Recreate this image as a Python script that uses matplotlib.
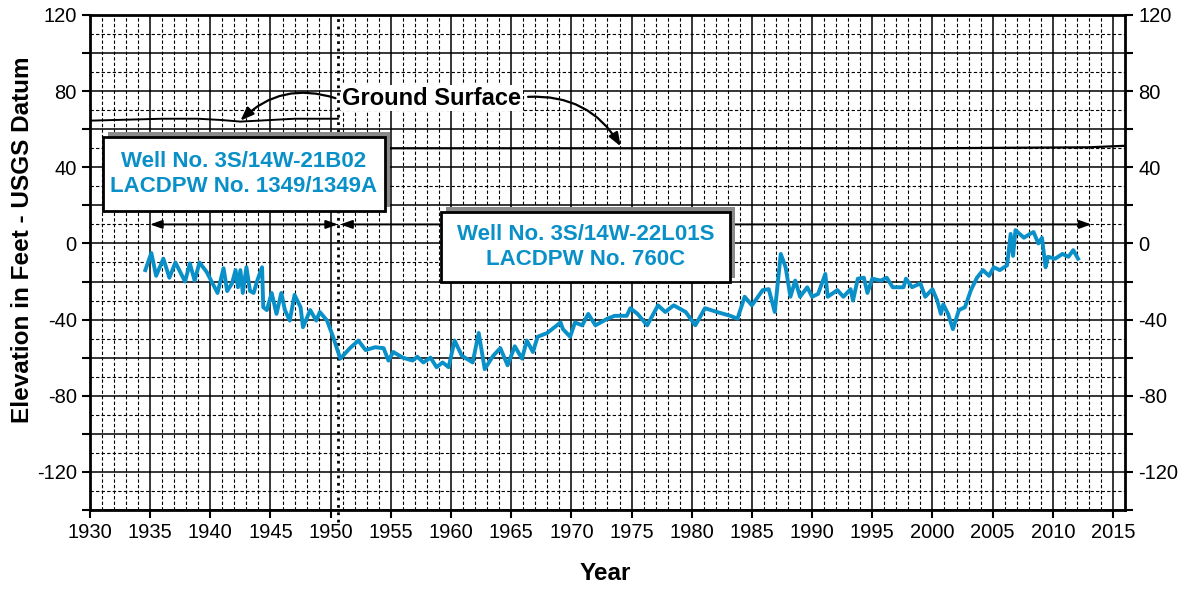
import matplotlib.pyplot as plt
from matplotlib.patches import Rectangle
from matplotlib.ticker import MultipleLocator, FuncFormatter

plt.rcParams['font.family'] = ['Liberation Sans', 'DejaVu Sans']

# Well hydrograph (year, elevation in feet)
well_years = [1934.6, 1935.1, 1935.5, 1936.1, 1936.6, 1937.1, 1937.9, 1938.3, 1938.7, 1939.1,
              1939.7, 1940.6, 1941.1, 1941.4, 1941.8, 1942.1, 1942.3, 1942.5, 1942.7, 1943.0,
              1943.3, 1943.6, 1943.9, 1944.3, 1944.4, 1944.7, 1945.1, 1945.5, 1945.9, 1946.2,
              1946.6, 1947.0, 1947.5, 1947.7, 1948.3, 1948.8, 1949.1, 1949.7, 1950.2, 1950.8,
              1951.6, 1952.3, 1952.9, 1953.7, 1954.4, 1954.8, 1955.2, 1956.0, 1956.8, 1957.2,
              1957.7, 1958.3, 1958.8, 1959.3, 1959.8, 1960.3, 1960.9, 1961.8, 1962.3, 1962.8,
              1963.5, 1964.1, 1964.7, 1965.3, 1965.9, 1966.3, 1966.8, 1967.2, 1968.0, 1969.1,
              1969.3, 1969.9, 1970.3, 1970.9, 1971.4, 1972.0, 1973.0, 1973.6, 1974.6, 1974.9,
              1975.5, 1976.3, 1977.2, 1977.8, 1978.5, 1979.5, 1980.3, 1981.1, 1982.1, 1983.2,
              1983.8, 1984.4, 1985.0, 1985.9, 1986.4, 1986.9, 1987.4, 1987.8, 1988.2, 1988.6,
              1989.0, 1989.6, 1990.0, 1990.5, 1991.1, 1991.3, 1992.1, 1992.6, 1993.2, 1993.4,
              1993.8, 1994.3, 1994.6, 1995.0, 1995.7, 1996.2, 1996.7, 1997.6, 1997.8, 1998.3,
              1999.0, 1999.4, 2000.0, 2000.4, 2000.7, 2000.9, 2001.3, 2001.7, 2002.2, 2002.7,
              2003.2, 2003.7, 2004.2, 2004.7, 2005.1, 2005.6, 2006.2, 2006.5, 2006.7, 2006.9,
              2007.6, 2008.1, 2008.4, 2008.8, 2009.1, 2009.4, 2009.6, 2010.2, 2010.8, 2011.3,
              2011.7, 2012.1]
well_elev = [-14, -5, -17, -8, -18, -10, -20, -10.5, -19.5, -10,
             -15, -26, -13, -25, -21, -14, -23, -14, -26, -12.5,
             -25, -26, -19.5, -12.5, -33.5, -35, -26, -37, -26, -35,
             -40.5, -27, -33.5, -44, -35, -40.5, -36, -40.5, -49, -60.5,
             -55, -51, -56, -54.5, -55, -61.5, -57, -60, -61.5, -59.5,
             -62.5, -60, -65, -62.5, -65, -51, -59, -62.5, -47, -66,
             -59, -55, -64, -54, -60.5, -51, -57, -49, -47, -41.5,
             -45, -49, -41.5, -43, -37, -43, -39.5, -38, -38, -34,
             -37, -43, -32.5, -36, -32.5, -36, -43, -34, -36, -38,
             -39.5, -28, -32.5, -24.5, -24, -36, -5.5, -12.5, -28, -19.5,
             -28, -23, -28, -26.5, -16, -28, -24.5, -28, -24, -30,
             -18.5, -18, -26, -18.5, -19.5, -18, -23, -23, -18.5, -23,
             -21, -28, -24, -30, -37, -32, -37, -45, -35, -33.5,
             -24.5, -18, -14, -17, -12.5, -14, -11.5, 5, -6.5, 7,
             3, 5, 6, 0, 3, -12.5, -7, -8, -5.5, -7,
             -3.5, -8]

# Ground surface at the two well sites
gs_old_years = [1930, 1933, 1936, 1939, 1941, 1942.5, 1944, 1947, 1950.6]
gs_old_elev = [64.5, 65, 65.5, 65.5, 64.8, 64, 64.5, 65.5, 65.5]
gs_new_years = [1950.6, 1975, 2000, 2013, 2016]
gs_new_elev = [50, 50, 50, 50.5, 51.3]

well_switch = 1950.6
box_labels = ['Well No. 3S/14W-21B02\nLACDPW No. 1349/1349A',
              'Well No. 3S/14W-22L01S\nLACDPW No. 760C']

blue = '#0a90c8'

fig = plt.figure(figsize=(11.93, 5.92), dpi=100)
ax = fig.add_axes([0.0754, 0.1385, 0.8676, 0.8362])

ax.set_xlim(1930, 2016)
ax.set_ylim(-140, 120)

# Grid: solid every 5 yr / 20 ft, dashed every 1 yr / 10 ft
ax.xaxis.set_major_locator(MultipleLocator(5))
ax.xaxis.set_minor_locator(MultipleLocator(1))
ax.yaxis.set_major_locator(MultipleLocator(20))
ax.yaxis.set_minor_locator(MultipleLocator(10))
ax.yaxis.set_major_formatter(FuncFormatter(lambda v, p: '%d' % v if v % 40 == 0 else ''))
ax.grid(which='major', color='black', lw=1.1, ls='-')
ax.grid(which='minor', color='black', lw=0.8, ls=(0, (3, 2)))
ax.set_axisbelow(True)

ax.tick_params(which='major', direction='out', length=6, width=1.5, labelsize=14.5,
               left=True, right=True, labelright=True, bottom=True, top=False)
ax.tick_params(which='minor', length=0)
for s in ax.spines.values():
    s.set_linewidth(2)

# Ground surface lines
ax.plot(gs_old_years, gs_old_elev, color='black', lw=1.4, zorder=3)
ax.plot(gs_new_years, gs_new_elev, color='black', lw=1.6, zorder=3)

# Well change line
ax.axvline(well_switch, ymin=-0.025, ymax=1, color='black', ls=':', lw=2, clip_on=False, zorder=3)

# Hydrograph
ax.plot(well_years, well_elev, color=blue, lw=2.8, zorder=4)

# Period arrows
ax.annotate('', xy=(1935, 10), xytext=(well_switch, 10),
            arrowprops=dict(arrowstyle='<|-|>,head_length=0.7,head_width=0.25', color='black', lw=1.4,
                            shrinkA=0, shrinkB=0), zorder=5)
ax.annotate('', xy=(well_switch + 0.2, 10), xytext=(2013.2, 10),
            arrowprops=dict(arrowstyle='<|-|>,head_length=0.7,head_width=0.25', color='black', lw=1.4,
                            shrinkA=0, shrinkB=0), zorder=5)

# Ground surface label with curved arrows
ax.text(1958.4, 76.3, 'Ground Surface', fontsize=17, fontweight='bold', ha='center', va='center',
        bbox=dict(fc='white', ec='none', pad=1), zorder=6)
ax.annotate('', xy=(1942.5, 64.5), xytext=(1950.4, 76.3),
            arrowprops=dict(arrowstyle='-|>,head_length=0.8,head_width=0.3', color='black', lw=1.6,
                            connectionstyle='arc3,rad=0.3', shrinkA=0, shrinkB=0), zorder=6)
ax.annotate('', xy=(1974.1, 51), xytext=(1966.4, 77),
            arrowprops=dict(arrowstyle='-|>,head_length=0.8,head_width=0.3', color='black', lw=1.6,
                            connectionstyle='arc3,rad=-0.3', shrinkA=0, shrinkB=0), zorder=6)

# Well boxes with grey shadow (x0, x1, y0, y1 in data units)
boxes = [(1931.1, 1954.5, 16.8, 55.8), (1959.2, 1983.2, -20.5, 16.3)]
for (x0, x1, y0, y1), label in zip(boxes, box_labels):
    ax.add_patch(Rectangle((x0 + 0.4, y0 + 2.6), x1 - x0, y1 - y0, fc='#8a8a8a', ec='none', zorder=7))
    ax.add_patch(Rectangle((x0, y0), x1 - x0, y1 - y0, fc='white', ec='black', lw=2, zorder=8))
    ax.text((x0 + x1) / 2, (y0 + y1) / 2, label, color=blue, fontsize=16, fontweight='bold',
            ha='center', va='center', linespacing=1.25, zorder=9)

ax.set_xlabel('Year', fontsize=17.5, fontweight='bold')
ax.set_ylabel('Elevation in Feet - USGS Datum', fontsize=17.5, fontweight='bold')
ax.xaxis.set_label_coords(0.4976, -0.105)
ax.yaxis.set_label_coords(-0.054, 0.545)

plt.savefig('out.png', dpi=100)
